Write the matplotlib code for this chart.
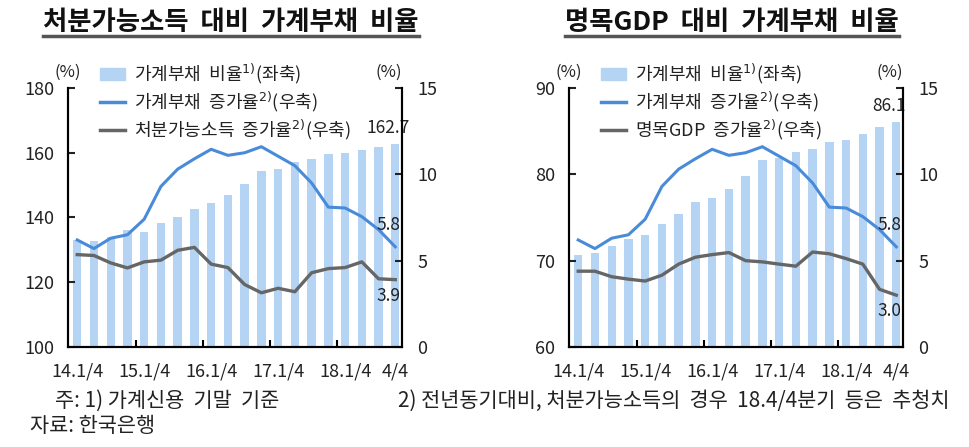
import numpy as np
import matplotlib
matplotlib.use("Agg")
import matplotlib.pyplot as plt
from matplotlib.patches import Patch
from matplotlib.lines import Line2D

plt.rcParams['font.family'] = ['Noto Sans CJK KR', 'DejaVu Sans']
plt.rcParams['mathtext.fontset'] = 'dejavusans'

# quarters 14.1/4 ~ 18.4/4
quarters = ['14.1/4', '14.2/4', '14.3/4', '14.4/4', '15.1/4', '15.2/4', '15.3/4', '15.4/4',
            '16.1/4', '16.2/4', '16.3/4', '16.4/4', '17.1/4', '17.2/4', '17.3/4', '17.4/4',
            '18.1/4', '18.2/4', '18.3/4', '18.4/4']
label_idx = [0, 4, 8, 12, 16, 19]
label_txt = ['14.1/4', '15.1/4', '16.1/4', '17.1/4', '18.1/4', '4/4']

# bars (left axis)
debt_income_ratio = [133.0, 132.7, 134.0, 136.2, 135.6, 138.2, 140.0, 142.7, 144.5, 146.8,
                     150.4, 154.5, 155.1, 157.1, 158.0, 159.7, 160.0, 160.9, 161.9, 162.7]
debt_gdp_ratio = [70.6, 70.9, 71.7, 72.5, 73.0, 74.3, 75.4, 76.8, 77.3, 78.3,
                  79.8, 81.7, 81.9, 82.6, 82.9, 83.8, 84.0, 84.7, 85.5, 86.1]
# lines (right axis)
debt_growth = [6.2, 5.7, 6.3, 6.5, 7.4, 9.3, 10.3, 10.9, 11.45, 11.1,
               11.25, 11.6, 11.05, 10.5, 9.5, 8.1, 8.05, 7.55, 6.8, 5.8]
income_growth = [5.35, 5.3, 4.87, 4.58, 4.93, 5.03, 5.6, 5.77, 4.8, 4.6,
                 3.62, 3.14, 3.4, 3.2, 4.3, 4.54, 4.6, 4.93, 3.95, 3.9]
gdp_growth = [4.39, 4.39, 4.07, 3.93, 3.82, 4.16, 4.8, 5.2, 5.35, 5.47,
              5.0, 4.93, 4.8, 4.68, 5.5, 5.4, 5.12, 4.8, 3.34, 3.0]

bar_c = '#b5d4f4'
blue_c = '#4a8bd9'
gray_c = '#666666'
txt_c = '#222222'

fig = plt.figure(figsize=(9.7, 4.47), dpi=100)
W, H = 970.0, 447.0


def panel(left_px, ratio, growth, ylim, yticks, title, gname):
    ax = fig.add_axes([left_px / W, 1 - 347 / H, 334 / W, (347 - 88) / H])
    x = np.arange(len(quarters))
    ax.bar(x, ratio, width=0.5, color=bar_c, zorder=1)
    ax.set_ylim(*ylim)
    ax.set_yticks(yticks)
    ax.set_xlim(-0.55, 19.4)
    ax.set_xticks([3.5, 7.5, 11.5, 15.5])
    ax.set_xticklabels([])
    ax.set_xticks(label_idx, minor=True)
    ax.set_xticklabels(label_txt, minor=True)
    ax.tick_params(axis='x', which='major', direction='in', length=5, width=1.5)
    ax.tick_params(axis='x', which='minor', length=0, pad=11, labelsize=13, colors=txt_c)
    ax.tick_params(axis='y', direction='in', length=5, width=1.5, pad=10, labelsize=13, colors=txt_c)
    for s in ['left', 'right', 'bottom']:
        ax.spines[s].set_linewidth(1.5)
    ax.spines['top'].set_visible(False)

    ax2 = ax.twinx()
    ax2.plot(x, debt_growth, color=blue_c, lw=2.2, zorder=3)
    ax2.plot(x, growth, color=gray_c, lw=2.4, zorder=3)
    ax2.set_ylim(0, 15)
    ax2.set_yticks([0, 5, 10, 15])
    ax2.tick_params(axis='y', direction='in', length=5, width=1.5, pad=11, labelsize=13, colors=txt_c)
    for s in ['left', 'right', 'bottom']:
        ax2.spines[s].set_linewidth(1.5)
    ax2.spines['top'].set_visible(False)

    # end-point labels
    ax.annotate(f'{ratio[-1]:.1f}', (x[-1], ratio[-1]), xytext=(-5, 5), textcoords='offset points',
                ha='center', va='bottom', fontsize=12.5, color=txt_c)
    ax2.annotate(f'{debt_growth[-1]:.1f}', (x[-1], debt_growth[-1]), xytext=(-5, 9), textcoords='offset points',
                 ha='center', va='bottom', fontsize=12.5, color=txt_c)
    ax2.annotate(f'{growth[-1]:.1f}', (x[-1], growth[-1]), xytext=(-5, -5), textcoords='offset points',
                 ha='center', va='top', fontsize=12.5, color=txt_c)

    # (%) unit labels
    ax.text(0.0, 1.06, '(%)', transform=ax.transAxes, ha='center', va='center', fontsize=12, color=txt_c)
    ax.text(1.0, 1.06, '(%)', transform=ax.transAxes, ha='right', va='center', fontsize=12, color=txt_c)

    handles = [Patch(color=bar_c), Line2D([], [], color=blue_c, lw=2.5), Line2D([], [], color=gray_c, lw=2.5)]
    labels = ['가계부채  비율$^{1)}$(좌축)', '가계부채  증가율$^{2)}$(우축)', gname + '  증가율$^{2)}$(우축)']
    leg = ax2.legend(handles, labels, loc='upper left', bbox_to_anchor=((left_px + 32) / W, 1 - 62 / H),
                     bbox_transform=fig.transFigure, frameon=False, fontsize=13, handlelength=1.4,
                     handleheight=0.6, handletextpad=0.5, labelspacing=0.2, borderpad=0, borderaxespad=0)
    for t in leg.get_texts():
        t.set_color(txt_c)

    t = fig.text((left_px + 163) / W, 1 - 22 / H, title, ha='center', va='center',
                 fontsize=19, fontweight='bold', color='#111111')
    return t


titles = []
titles.append(panel(68, debt_income_ratio, income_growth, (100, 180), [100, 120, 140, 160, 180],
                    '처분가능소득  대비  가계부채  비율', '처분가능소득'))
titles.append(panel(569, debt_gdp_ratio, gdp_growth, (60, 90), [60, 70, 80, 90],
                    '명목GDP  대비  가계부채  비율', '명목GDP'))

# underline titles
fig.canvas.draw()
r = fig.canvas.get_renderer()
for t in titles:
    bb = t.get_window_extent(r).transformed(fig.transFigure.inverted())
    fig.add_artist(Line2D([bb.x0, bb.x1], [bb.y0 - 0.002, bb.y0 - 0.002], color='#555555', lw=2.5,
                          transform=fig.transFigure))

fig.text(55 / W, 1 - 401 / H, '주: 1) 가계신용  기말  기준', ha='left', va='center', fontsize=15, color=txt_c)
fig.text(398 / W, 1 - 401 / H, '2) 전년동기대비, 처분가능소득의  경우  18.4/4분기  등은  추청치',
         ha='left', va='center', fontsize=15, color=txt_c)
fig.text(30 / W, 1 - 426 / H, '자료: 한국은행', ha='left', va='center', fontsize=15, color=txt_c)

fig.savefig('out.png', dpi=100)
